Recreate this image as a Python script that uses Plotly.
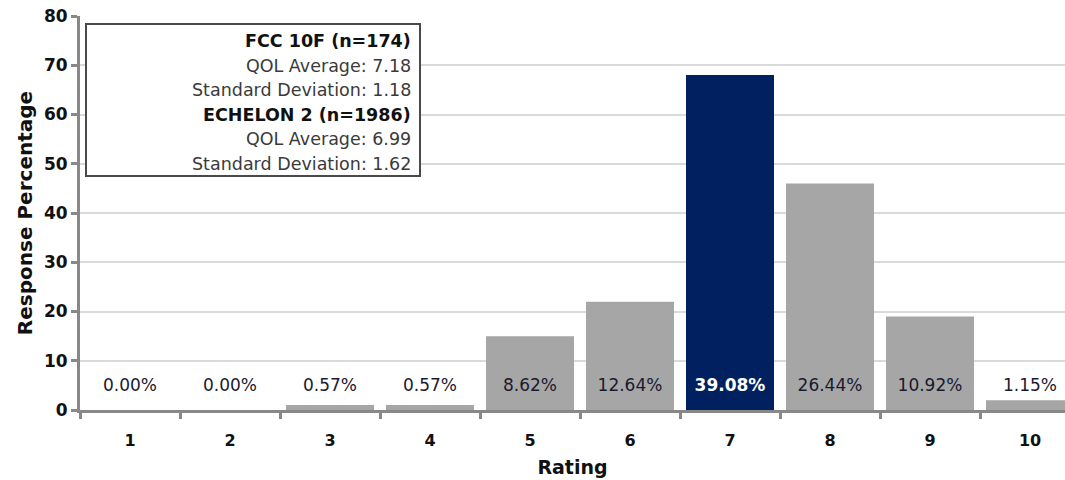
import plotly.graph_objects as go

# Responses per rating for FCC 10F
ratings = [1, 2, 3, 4, 5, 6, 7, 8, 9, 10]
counts = [0, 0, 1, 1, 15, 22, 68, 46, 19, 2]
n_total = 174
highlight_rating = 7

summary_lines = [
    ("FCC 10F (n=174)", True),
    ("QOL Average: 7.18", False),
    ("Standard Deviation: 1.18", False),
    ("ECHELON 2 (n=1986)", True),
    ("QOL Average: 6.99", False),
    ("Standard Deviation: 1.62", False),
]

GRAY = "#a6a6a6"
NAVY = "#002060"
FONT = "DejaVu Sans"

pct_labels = [f"{c / n_total * 100:.2f}%" for c in counts]
bar_colors = [NAVY if r == highlight_rating else GRAY for r in ratings]
label_colors = ["white" if r == highlight_rating else "#1a1a2e" for r in ratings]
label_text = [f"<b>{t}</b>" if r == highlight_rating else t
              for r, t in zip(ratings, pct_labels)]

fig = go.Figure()
fig.add_trace(go.Bar(
    x=ratings, y=counts, marker=dict(color=bar_colors, line=dict(width=0)),
    width=0.88, hoverinfo="skip", showlegend=False,
))
fig.add_trace(go.Scatter(
    x=ratings, y=[4.7] * len(ratings), mode="text", text=label_text,
    textfont=dict(family=FONT, size=17, color=label_colors),
    hoverinfo="skip", showlegend=False, cliponaxis=False,
))

# Summary box (plot area: 985 px wide, 394 px tall, starting at 80,16)
PW, PH = 985.0, 394.0
fig.add_shape(
    type="rect", xref="paper", yref="paper",
    x0=6 / PW, x1=340 / PW, y0=1 - 160 / PH, y1=1 - 8 / PH,
    line=dict(color="#4a4a4a", width=2), fillcolor="white", layer="above",
)
for i, (t, bold) in enumerate(summary_lines):
    fig.add_annotation(
        xref="paper", yref="paper", x=333 / PW, y=1 - (25 + 24.6 * i) / PH,
        xanchor="right", yanchor="middle", showarrow=False,
        text=f"<b>{t}</b>" if bold else t,
        font=dict(family=FONT, size=17.5, color="#111" if bold else "#3a3a3a"),
    )

fig.update_layout(
    width=1065, height=480,
    margin=dict(l=80, r=0, t=16, b=70),
    paper_bgcolor="white", plot_bgcolor="white",
    font=dict(family=FONT, color="#111"),
)
fig.update_xaxes(
    range=[0.5, 10.35], tickvals=ratings, ticktext=[str(r) for r in ratings],
    ticks="", showgrid=False, zeroline=False,
    showline=True, linecolor="#888", linewidth=3,
    ticklabelstandoff=14,
    tickfont=dict(family=FONT, size=16, color="#111", weight="bold"),
    minor=dict(tick0=0.5, dtick=1, ticks="outside", ticklen=6,
               tickcolor="#888", tickwidth=3, showgrid=False),
    title=dict(text="<b>Rating</b>", font=dict(family=FONT, size=19, color="#111"),
               standoff=12),
)
fig.update_yaxes(
    range=[0, 80], dtick=10, ticks="outside", ticklen=6,
    tickcolor="#888", tickwidth=3,
    showgrid=True, gridcolor="#dadada", gridwidth=2, zeroline=False,
    showline=True, linecolor="#888", linewidth=3,
    tickfont=dict(family=FONT, size=17, color="#111", weight="bold"),
    title=dict(text="<b>Response Percentage</b>",
               font=dict(family=FONT, size=20, color="#111"), standoff=6),
)

fig.write_html("out.html")
